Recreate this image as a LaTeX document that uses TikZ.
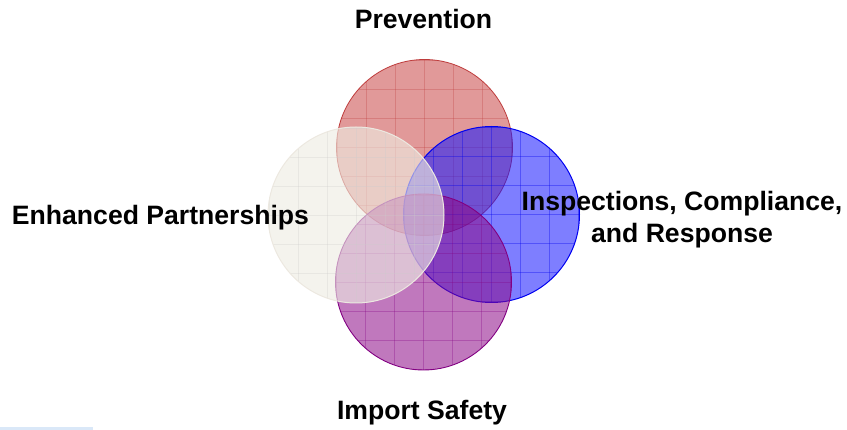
\documentclass[tikz,border=0pt]{standalone}
\usepackage{fontspec}
\setmainfont{Liberation Sans}
\usetikzlibrary{calc}
\begin{document}
\begin{tikzpicture}[x=1pt,y=-1pt,
  lbl/.style={font=\bfseries\fontsize{26.6}{32}\selectfont, inner sep=0pt, text=black},
  gridln/.style={line width=0.7pt}]
\useasboundingbox (0,0) rectangle (847,430);
\definecolor{redfill}{RGB}{200,70,70}
\definecolor{rededge}{RGB}{190,60,60}
\definecolor{bluefill}{RGB}{20,20,255}
\definecolor{blueedge}{RGB}{0,0,240}
\definecolor{purpfill}{RGB}{140,10,135}
\definecolor{purpedge}{RGB}{130,0,130}
\definecolor{whitefill}{RGB}{238,236,226}
\definecolor{whiteedge}{RGB}{236,232,224}
\definecolor{barblue}{RGB}{218,232,248}
\coordinate (cp) at (424.5,147.5);
\coordinate (ci) at (491.5,214.5);
\coordinate (cs) at (423.5,282);
\coordinate (ce) at (356,215);
\def\rad{88}
% Prevention circle
\begin{scope}
  \fill[redfill, fill opacity=0.55] (cp) circle (\rad);
  \clip (cp) circle (\rad);
  \foreach \k in {-3,...,3} {
    \draw[gridln, rededge, opacity=0.3] ($(cp)+(\k*29,-90)$) -- ($(cp)+(\k*29,90)$);
    \draw[gridln, rededge, opacity=0.3] ($(cp)+(-90,\k*29)$) -- ($(cp)+(90,\k*29)$);
  }
\end{scope}
\draw[rededge, line width=0.8pt] (cp) circle (\rad);
% Inspections circle
\begin{scope}
  \fill[bluefill, fill opacity=0.55] (ci) circle (\rad);
  \clip (ci) circle (\rad);
  \foreach \k in {-3,...,3} {
    \draw[gridln, blueedge, opacity=0.35] ($(ci)+(\k*29,-90)$) -- ($(ci)+(\k*29,90)$);
    \draw[gridln, blueedge, opacity=0.35] ($(ci)+(-90,\k*29)$) -- ($(ci)+(90,\k*29)$);
  }
\end{scope}
\draw[blueedge, line width=1pt] (ci) circle (\rad);
% Import Safety circle
\begin{scope}
  \fill[purpfill, fill opacity=0.55] (cs) circle (\rad);
  \clip (cs) circle (\rad);
  \foreach \k in {-3,...,3} {
    \draw[gridln, purpedge, opacity=0.3] ($(cs)+(\k*29,-90)$) -- ($(cs)+(\k*29,90)$);
    \draw[gridln, purpedge, opacity=0.3] ($(cs)+(-90,\k*29)$) -- ($(cs)+(90,\k*29)$);
  }
\end{scope}
\draw[purpedge, line width=0.9pt] (cs) circle (\rad);
% Enhanced Partnerships circle
\begin{scope}
  \fill[whitefill, fill opacity=0.62] (ce) circle (\rad);
  \clip (ce) circle (\rad);
  \foreach \k in {-3,...,3} {
    \draw[gridln, gray!40, opacity=0.3] ($(ce)+(\k*29,-90)$) -- ($(ce)+(\k*29,90)$);
    \draw[gridln, gray!40, opacity=0.3] ($(ce)+(-90,\k*29)$) -- ($(ce)+(90,\k*29)$);
  }
\end{scope}
\draw[whiteedge, line width=1pt] (ce) circle (\rad);
% labels
\node[lbl, anchor=base] (tprev) at (423.5,29) {Prevention};
\node[lbl, anchor=base] (tenh) at (160.5,225) {Enhanced Partnerships};
\node[lbl, anchor=north, align=center] (tins) at (682,191) {Inspections, Compliance,\\and Response};
\node[lbl, anchor=base] (timp) at (422,420) {Import Safety};
% remnant bar bottom-left
\fill[barblue] (0,427) rectangle (93,430);
\end{tikzpicture}
\end{document}
